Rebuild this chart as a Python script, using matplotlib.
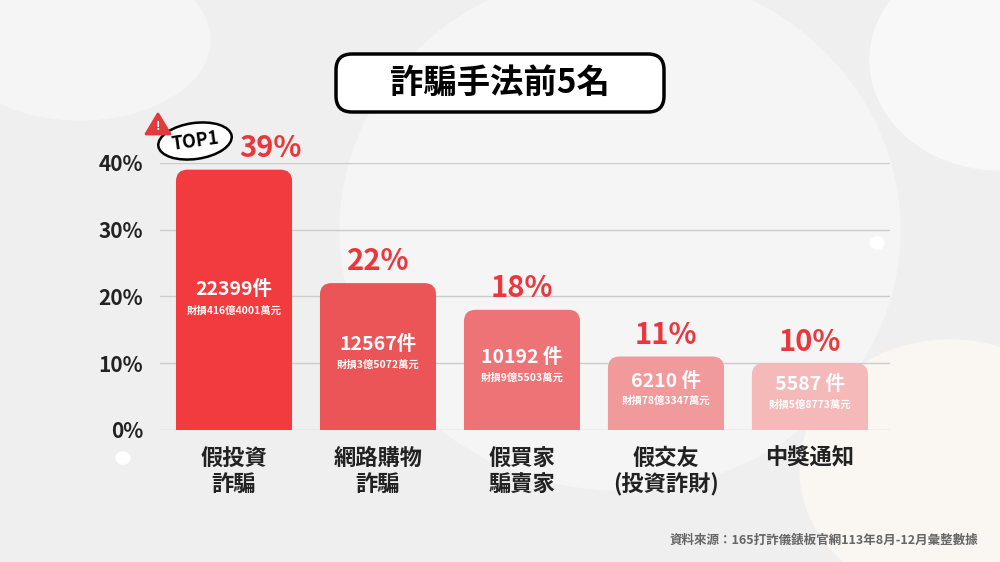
import matplotlib.pyplot as plt
from matplotlib.patches import FancyBboxPatch, Ellipse, Polygon

plt.rcParams['font.family'] = ['Noto Sans CJK TC', 'Noto Sans CJK JP', 'Noto Sans CJK SC', 'DejaVu Sans']

categories = ['假投資\n詐騙', '網路購物\n詐騙', '假買家\n騙賣家', '假交友\n(投資詐財)', '中獎通知']
percents = [39, 22, 18, 11, 10]
counts = ['22399件', '12567件', '10192 件', '6210 件', '5587 件']
losses = ['財損416億4001萬元', '財損3億5072萬元', '財損9億5503萬元', '財損78億3347萬元', '財損5億8773萬元']
yticks = [0, 10, 20, 30, 40]
colors = ['#f23b3f', '#ec5558', '#ee7376', '#f19a9c', '#f6b9ba']
red = '#e8383d'

fig = plt.figure(figsize=(10, 5.62), dpi=100)
fig.patch.set_facecolor('#efefef')

# background blobs
bg = fig.add_axes([0, 0, 1, 1])
bg.set_xlim(0, 1000); bg.set_ylim(562, 0); bg.axis('off')
bg.add_patch(Ellipse((620, 230), 560, 520, color='#f5f5f5', zorder=0))
bg.add_patch(Ellipse((1000, 60), 260, 220, color='#f8f8f8', zorder=0))
bg.add_patch(Ellipse((950, 470), 300, 260, color='#faf6f2', zorder=0))
bg.add_patch(Ellipse((80, 40), 260, 160, color='#f5f5f5', zorder=0))
bg.add_patch(Ellipse((877, 243), 14, 12, color='white', zorder=0))
bg.add_patch(Ellipse((123, 458), 14, 12, color='white', zorder=0))

# title box
bg.add_patch(FancyBboxPatch((336, 54), 328, 58, boxstyle='round,pad=0,rounding_size=16',
                            fc='white', ec='black', lw=2.5, zorder=2))
bg.text(500, 83, '詐騙手法前5名', ha='center', va='center', fontsize=24, fontweight='bold', zorder=3)

# TOP1 badge
bg.add_patch(Ellipse((195, 141), 74, 36, angle=-8, fc='white', ec='black', lw=1.8, zorder=2))
bg.text(195, 141, 'TOP1', ha='center', va='center', fontsize=13, fontweight='bold', rotation=8, zorder=3)
bg.add_patch(Polygon([[158, 114], [146, 134], [170, 134]], closed=True, fc='#e33b3b', ec='#e33b3b',
                     lw=2, joinstyle='round', zorder=4))
bg.text(158, 127, '!', ha='center', va='center', color='white', fontsize=9, fontweight='bold', zorder=5)

bg.text(978, 540, '資料來源：165打詐儀錶板官網113年8月-12月彙整數據', ha='right', va='center',
        fontsize=9, color='#666666', fontweight='bold')

ax = fig.add_axes([0.16, 0.235, 0.73, 0.475])
ax.set_facecolor('none')
ax.set_xlim(-0.514, 4.556)
ax.set_ylim(0, 40)
for s in ax.spines.values():
    s.set_visible(False)
ax.set_yticks(yticks)
ax.set_yticklabels([f'{v}%' for v in yticks], fontsize=15, fontweight='bold', color='#222222')
ax.tick_params(length=0, pad=12)
ax.set_xticks(range(len(categories)))
ax.set_xticklabels(categories, fontsize=16, fontweight='bold', color='#222222', linespacing=1.2, va='top')
ax.tick_params(axis='x', pad=12)
ax.grid(axis='y', color='#cccccc', lw=1)
ax.set_axisbelow(True)

w = 0.806
for i, p in enumerate(percents):
    patch = FancyBboxPatch((i - w / 2, -5), w, p + 5, boxstyle='round,pad=0,rounding_size=0.08',
                           mutation_aspect=21.6, fc=colors[i], ec='none', zorder=3)
    ax.add_patch(patch)
    ax.text(i + (0.25 if i == 0 else 0), p + 1.0, f'{p}%', ha='center', va='bottom', fontsize=21,
            fontweight='bold', color=red, clip_on=False)
    ax.text(i, p / 2 + 1.8 if i else 21, counts[i], ha='center', va='center', fontsize=14,
            fontweight='bold', color='white', zorder=4)
    ax.text(i, p / 2 - 1.2 if i else 17.8, losses[i], ha='center', va='center', fontsize=7.5,
            fontweight='bold', color='white', zorder=4)

fig.savefig('out.png', dpi=100, facecolor=fig.get_facecolor())
